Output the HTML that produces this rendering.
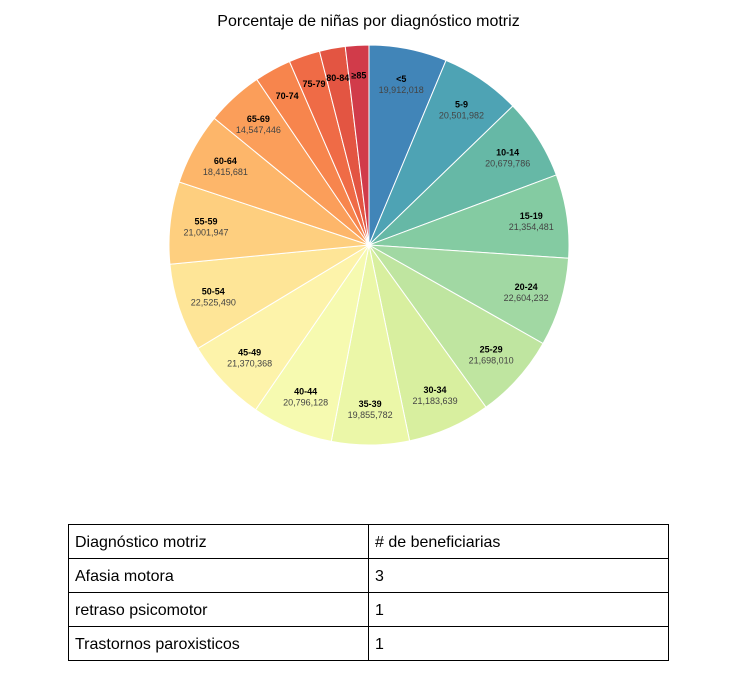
<!DOCTYPE html>
<html><head><meta charset="utf-8"><style>
body{margin:0;background:#fff;font-family:"Liberation Sans",sans-serif;}
#wrap{position:relative;width:752px;height:681px;overflow:hidden;}
#title{position:absolute;left:0;width:737px;top:13px;text-align:center;font-size:16px;color:#000;}
svg{position:absolute;left:0;top:0;}
table{position:absolute;left:68px;top:524px;width:601px;border-collapse:collapse;font-size:16px;}
td{border:1px solid #000;height:34px;padding:3px 0 0 6px;box-sizing:border-box;width:300px;}
</style></head><body>
<div id="wrap">
<div id="title">Porcentaje de niñas por diagnóstico motriz</div>
<svg id="pie" width="752" height="500"></svg>
<table>
<tr><td>Diagnóstico motriz</td><td># de beneficiarias</td></tr>
<tr><td>Afasia motora</td><td>3</td></tr>
<tr><td>retraso psicomotor</td><td>1</td></tr>
<tr><td>Trastornos paroxisticos</td><td>1</td></tr>
</table>
</div>
<script>
const categories=["<5","5-9","10-14","15-19","20-24","25-29","30-34","35-39","40-44","45-49","50-54","55-59","60-64","65-69","70-74","75-79","80-84","≥85"];
const values=[19912018,20501982,20679786,21354481,22604232,21698010,21183639,19855782,20796128,21370368,22525490,21001947,18415681,14547446,9400000,8000000,6600000,6000000];
const showValue=[1,1,1,1,1,1,1,1,1,1,1,1,1,1,0,0,0,0];
const colors=["#4185b8","#4ea3b4","#66b8a6","#84cba2","#a1d8a3","#bfe5a0","#d8ef9f","#ebf7a8","#f6fab0","#fdf3aa","#fee597","#fecf7f","#fdb66a","#fb9e5a","#f7854d","#ef6b46","#e35542","#d13b4a"];
const svg=document.getElementById('pie');
const NS="http://www.w3.org/2000/svg";
const cx=369,cy=245,r=200;
const total=values.reduce((a,b)=>a+b,0);
function pt(a,rr){return [cx+rr*Math.sin(a),cy-rr*Math.cos(a)];}
let a0=0;
values.forEach((v,i)=>{
  const a1=a0+v/total*2*Math.PI;
  const p0=pt(a0,r),p1=pt(a1,r);
  const path=document.createElementNS(NS,'path');
  path.setAttribute('d',`M${cx},${cy}L${p0[0]},${p0[1]}A${r},${r} 0 ${a1-a0>Math.PI?1:0} 1 ${p1[0]},${p1[1]}Z`);
  path.setAttribute('fill',colors[i]);
  path.setAttribute('stroke','#fff');
  path.setAttribute('stroke-width','1');
  
  
  svg.appendChild(path);
  a0=a1;
});
a0=0;
values.forEach((v,i)=>{
  const a1=a0+v/total*2*Math.PI;
  const am=(a0+a1)/2;
  const p=pt(am,showValue[i]?164:170);
  const t=document.createElementNS(NS,'text');
  t.setAttribute('x',p[0]);t.setAttribute('y',showValue[i]?p[1]-2:p[1]+3);
  t.setAttribute('text-anchor','middle');t.setAttribute('font-size','9');t.setAttribute('font-weight','bold');
  t.setAttribute('font-family','Liberation Sans, sans-serif');
  t.textContent=categories[i];
  
  
  svg.appendChild(t);
  if(showValue[i]){
    const t2=document.createElementNS(NS,'text');
    t2.setAttribute('x',p[0]);t2.setAttribute('y',p[1]+9);
    t2.setAttribute('text-anchor','middle');t2.setAttribute('font-size','9');t2.setAttribute('fill','#444');
    t2.setAttribute('font-family','Liberation Sans, sans-serif');
    t2.textContent=v.toLocaleString('en-US');
    
    
    svg.appendChild(t2);
  }
  a0=a1;
});
</script>
</body></html>
